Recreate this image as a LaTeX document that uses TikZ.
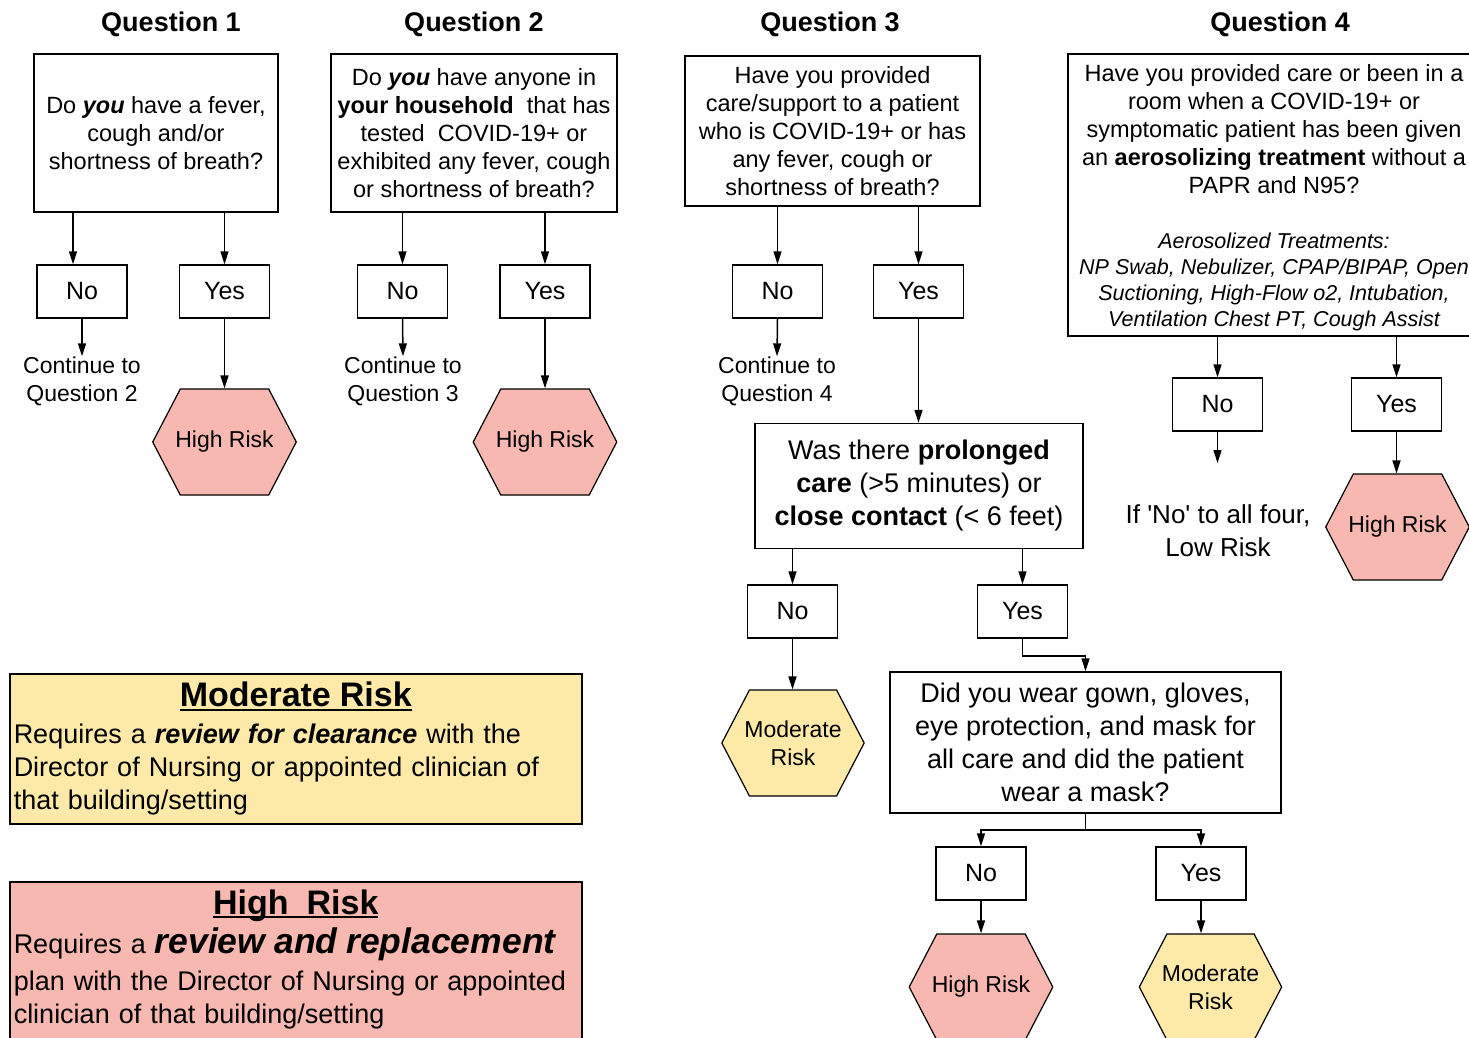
\documentclass[tikz,border=0pt]{standalone}
\usepackage{fontspec}
\setmainfont{Liberation Sans}[Ligatures=TeXOff]
\usetikzlibrary{arrows.meta,shapes.symbols}

\definecolor{riskhigh}{RGB}{246,184,176}
\definecolor{riskmod}{RGB}{254,234,168}

\newcommand{\qfont}{\fontsize{23.5}{28}\selectfont}
\newcommand{\bigqfont}{\fontsize{27}{33}\selectfont}
\newcommand{\ulbox}[1]{\setbox0\hbox{#1}\rlap{\rule[-4pt]{\wd0}{2pt}}\box0}

\tikzset{
  head/.style={font=\fontsize{27}{32}\selectfont\bfseries},
  qbox/.style={draw, line width=1.5pt, align=center, font=\qfont},
  ans/.style={draw, line width=1.5pt, minimum width=90, minimum height=53, font=\fontsize{25}{30}\selectfont},
  hexrisk/.style={signal, signal to=east and west, signal from=nowhere, signal pointer angle=125, draw, line width=1.2pt,
    minimum width=133, minimum height=106, inner xsep=-5pt, inner ysep=0pt, font=\fontsize{23}{28}\selectfont, align=center},
  high/.style={hexrisk, fill=riskhigh},
  moder/.style={hexrisk, fill=riskmod},
  note/.style={font=\fontsize{23}{28}\selectfont, align=center, inner sep=0pt},
  arr/.style={-{Triangle[width=8pt,length=13pt]}, line width=1.5pt},
  legend/.style={draw, line width=1.5pt, anchor=north west, text width=564, align=left, inner xsep=4pt,
    font=\fontsize{27}{33}\selectfont, execute at begin node={\hyphenpenalty=10000}}
}

\begin{document}
\begin{tikzpicture}[x=1pt, y=-1pt]
\useasboundingbox (0,0) rectangle (1469,1037);
\clip (0,0) rectangle (1469,1037);
\fill[white] (0,0) rectangle (1469,1037);

% headings
\node[head] (t1) at (171,24) {Question 1};
\node[head] (t2) at (474,24) {Question 2};
\node[head] (t3) at (830,24) {Question 3};
\node[head] (t4) at (1280,24) {Question 4};

% questions
\node[qbox, minimum width=244, minimum height=158] (q1) at (156,133) {Do \textbf{\textit{you}} have a fever,\\cough and/or\\shortness of breath?};
\node[qbox, minimum width=286, minimum height=158] (q2) at (474,133) {Do \textbf{\textit{you}} have anyone in\\\textbf{your household}\ \ that has\\tested\ \ COVID-19+ or\\exhibited any fever, cough\\or shortness of breath?};
\node[qbox, minimum width=295, minimum height=150] (q3) at (832.5,131) {Have you provided\\care/support to a patient\\who is COVID-19+ or has\\any fever, cough or\\shortness of breath?};
\node[qbox, inner sep=0pt, minimum width=412, minimum height=282] (q4) at (1274,195) {\begin{tabular}{@{}c@{}}
  \noalign{\vskip 6pt}
  Have you provided care or been in a\\
  room when a COVID-19+ or\\
  symptomatic patient has been given\\
  an \textbf{aerosolizing treatment} without a\\
  PAPR and N95?\\[27pt]
  \fontsize{21.5}{26}\selectfont\itshape Aerosolized Treatments:\\[-2pt]
  \fontsize{21.5}{26}\selectfont\itshape NP Swab, Nebulizer, CPAP/BIPAP, Open\\[-2pt]
  \fontsize{21.5}{26}\selectfont\itshape Suctioning, High-Flow o2, Intubation,\\[-2pt]
  \fontsize{21.5}{26}\selectfont\itshape Ventilation Chest PT, Cough Assist
\end{tabular}};

% answers
\node[ans] (n1) at (82,291.5) {No};
\node[ans] (y1) at (224.5,291.5) {Yes};
\node[ans] (n2) at (402.5,291.5) {No};
\node[ans] (y2) at (545,291.5) {Yes};
\node[ans] (n3) at (777.5,291.5) {No};
\node[ans] (y3) at (918.5,291.5) {Yes};
\node[ans] (n4) at (1217.5,404.5) {No};
\node[ans] (y4) at (1396.5,404.5) {Yes};

\node[note] (c1) at (82,381) {Continue to\\Question 2};
\node[note] (c2) at (403,381) {Continue to\\Question 3};
\node[note] (c3) at (777,381) {Continue to\\Question 4};

\node[high] (h1) at (224.5,442) {High Risk};
\node[high] (h2) at (545,442) {High Risk};
\node[high] (h4) at (1397.5,527) {High Risk};

% question 3 follow-up
\node[qbox, font=\bigqfont, minimum width=328, minimum height=125] (p) at (919,486) {Was there \textbf{prolonged}\\\textbf{care} (>5 minutes) or\\\textbf{close contact} (< 6 feet)};
\node[ans] (pn) at (792.5,611.5) {No};
\node[ans] (py) at (1022.5,611.5) {Yes};
\node[moder] (pm) at (793,743) {Moderate\\Risk};

\node[qbox, font=\bigqfont, minimum width=391, minimum height=141] (g) at (1085.5,742.5) {Did you wear gown, gloves,\\eye protection, and mask for\\all care and did the patient\\wear a mask?};
\node[ans] (gn) at (981,873.5) {No};
\node[ans] (gy) at (1201,873.5) {Yes};
\node[high] (gh) at (981,987) {High Risk};
\node[moder] (gm) at (1210.5,987) {Moderate\\Risk};

\node[note, font=\fontsize{26}{33}\selectfont] (low) at (1218,530.5) {If 'No' to all four,\\Low Risk};
\coordinate (lowtip) at (1217.5,463);

% legend
\node[legend, fill=riskmod, minimum height=150] (lm) at (9,673) {\makebox[\hsize][c]{\fontsize{34}{33}\selectfont\bfseries\ulbox{Moderate Risk}}\\[4pt]
  Requires a \textbf{\textit{review for clearance}} with the\\
  Director of Nursing or appointed clinician of\\
  that building/setting};
\node[legend, fill=riskhigh, inner ysep=8pt] (lh) at (9,881) {\makebox[\hsize][c]{\fontsize{34}{33}\selectfont\bfseries\ulbox{High\ \ Risk}}\\[6pt]
  Requires a {\fontsize{35.5}{33}\selectfont\bfseries\itshape review and replacement}\\[4pt]
  plan with the Director of Nursing or appointed\\
  clinician of that building/setting\rule[-16pt]{0pt}{1pt}};

% edges
\draw[arr] ([xshift=-9pt]n1.north) ++(0,-53) -- ([xshift=-9pt]n1.north);
\draw[arr] (q1.south -| y1) -- (y1.north);
\draw[arr] (n1.south) -- (c1.north);
\draw[arr] (y1.south) -- (h1.north);

\draw[arr] (q2.south -| n2) -- (n2.north);
\draw[arr] (q2.south -| y2) -- (y2.north);
\draw[arr] (n2.south) -- (c2.north);
\draw[arr] (y2.south) -- (h2.north);

\draw[arr] (q3.south -| n3) -- (n3.north);
\draw[arr] (q3.south -| y3) -- (y3.north);
\draw[arr] (n3.south) -- (c3.north);
\draw[arr] (y3.south) -- (y3.south |- p.north);

\draw[arr] (p.south -| pn) -- (pn.north);
\draw[arr] (p.south -| py) -- (py.north);
\draw[arr] (pn.south) -- (pn.south |- pm.north);
\draw[arr] (py.south) -- ++(0,17) -| (g.north);

\draw[arr] (g.south) -- ++(0,16) -| (gn.north);
\draw[arr] (g.south) -- ++(0,16) -| (gy.north);
\draw[arr] (gn.south) -- (gh.north);
\draw[arr] (gy.south) -- (gy.south |- gm.north);

\draw[arr] (q4.south -| n4) -- (n4.north);
\draw[arr] (q4.south -| y4) -- (y4.north);
\draw[arr] (n4.south) -- (lowtip);
\draw[arr] (y4.south) -- (y4.south |- h4.north);

\end{tikzpicture}
\end{document}
